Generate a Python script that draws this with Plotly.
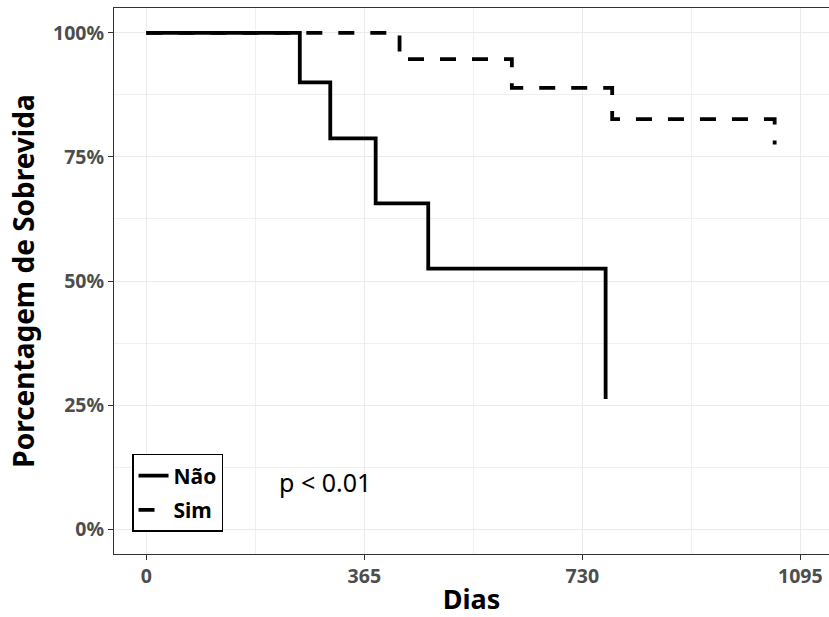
import plotly.graph_objects as go

# Kaplan-Meier estimates
nao_days = [0, 257, 308, 384, 472, 769]
nao_surv = [1.0, 0.9, 0.7875, 0.65625, 0.525, 0.2625]
sim_days = [0, 424, 612, 780, 1052]
sim_surv = [1.0, 0.947, 0.889, 0.826, 0.775]

x_ticks = [0, 365, 730, 1095]
y_ticks = [0, 0.25, 0.5, 0.75, 1.0]
y_tick_labels = ["0%", "25%", "50%", "75%", "100%"]
p_label = "p < 0.01"

FONT = "Noto Sans"

fig = go.Figure()
fig.add_trace(go.Scatter(x=nao_days, y=nao_surv, mode="lines", name="Não",
                         line=dict(color="black", width=3.8, shape="hv"),
                         legendgroup="a"))
fig.add_trace(go.Scatter(x=sim_days, y=sim_surv, mode="lines", name="Sim",
                         line=dict(color="black", width=3.8, shape="hv", dash="16px,16px"),
                         legendgroup="b"))

fig.add_annotation(x=218, y=0.095, text=p_label, showarrow=False,
                   xanchor="left", yanchor="middle",
                   font=dict(family=FONT, size=25, color="black"))

fig.update_layout(
    width=829, height=617,
    margin=dict(l=114, r=0, t=8, b=63),
    paper_bgcolor="white", plot_bgcolor="white",
    font=dict(family=FONT),
    legend=dict(x=0.0252, y=0.0403, xanchor="left", yanchor="bottom",
                bordercolor="black", borderwidth=1.5, bgcolor="white",
                font=dict(family=FONT, size=21, color="black", weight="bold"),
                tracegroupgap=4, itemwidth=30),
    xaxis=dict(range=[-54.1, 1143], tickvals=x_ticks, ticktext=[str(v) for v in x_ticks],
               showgrid=True, gridcolor="#EBEBEB", gridwidth=1.4,
               minor=dict(showgrid=True, gridcolor="#F0F0F0", gridwidth=0.8, dtick=182.5, tick0=0),
               zeroline=False, showline=True, linecolor="#333333", linewidth=1, mirror=True,
               ticks="outside", ticklen=5, tickcolor="#333333", tickwidth=1,
               tickfont=dict(family=FONT, size=19.5, color="#4D4D4D", weight="bold"),
               title=dict(text="Dias", standoff=8,
                          font=dict(family=FONT, size=27, color="black", weight="bold"))),
    yaxis=dict(range=[-0.05, 1.05], tickvals=y_ticks, ticktext=y_tick_labels,
               showgrid=True, gridcolor="#EBEBEB", gridwidth=1.4,
               minor=dict(showgrid=True, gridcolor="#F0F0F0", gridwidth=0.8, dtick=0.125, tick0=0),
               zeroline=False, showline=True, linecolor="#333333", linewidth=1,
               ticks="outside", ticklen=5, tickcolor="#333333", tickwidth=1,
               tickfont=dict(family=FONT, size=19.5, color="#4D4D4D", weight="bold"),
               title=dict(text="Porcentagem de Sobrevida", standoff=10,
                          font=dict(family=FONT, size=28, color="black", weight="bold"))),
)

fig.write_html("out.html")
